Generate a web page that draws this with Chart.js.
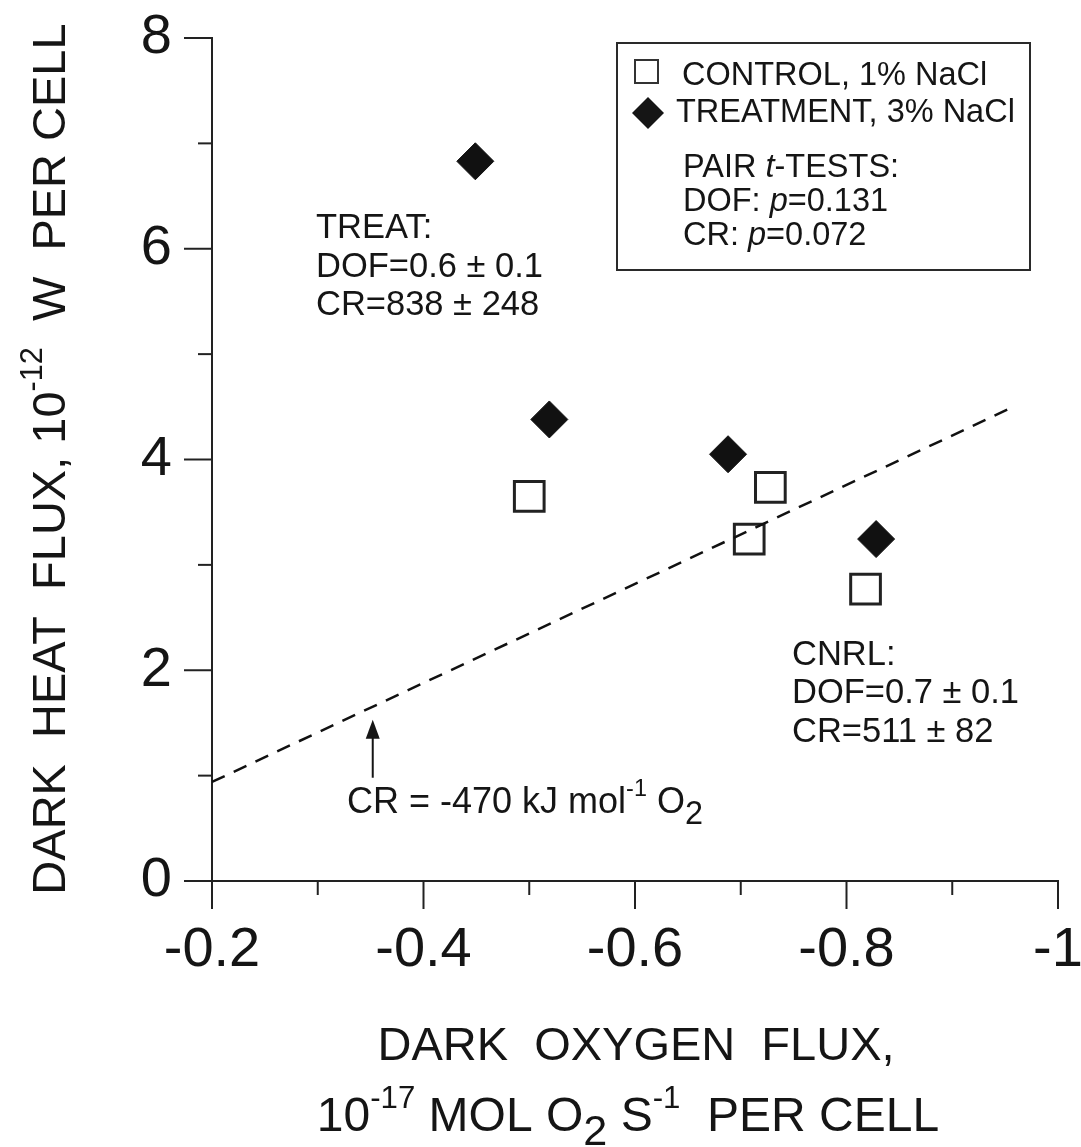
<!DOCTYPE html>
<html><head><meta charset="utf-8">
<script src="https://cdn.jsdelivr.net/npm/chart.js@4"></script>
<style>html,body{margin:0;padding:0;background:#fff}canvas{display:block}</style>
</head><body>
<canvas id="c" width="1081" height="1147"></canvas>
<script>
// ---- data ----
const controlX = [-0.50, -0.708, -0.728, -0.818];
const controlY = [3.65, 3.245, 3.735, 2.77];
const treatX = [-0.449, -0.519, -0.688, -0.828];
const treatY = [6.83, 4.38, 4.05, 3.245];
const fitX = [-0.2, -0.96];
const fitY = [0.94, 4.51];
const xTickValues = [-0.2, -0.4, -0.6, -0.8, -1];
const xTickLabels = ['-0.2', '-0.4', '-0.6', '-0.8', '-1'];
const xMinorValues = [-0.3, -0.5, -0.7, -0.9];
const yTickValues = [0, 2, 4, 6, 8];
const yTickLabels = ['0', '2', '4', '6', '8'];
const yMinorValues = [1, 3, 5, 7];
const legendLabels = ['CONTROL, 1% NaCl', 'TREATMENT, 3% NaCl'];
const arrowX = [-0.352];
const arrowY = [0.98, 1.53];

const FONT = '"Liberation Sans", Arial, Helvetica, sans-serif';
const INK = '#151515';

function fontFor(seg, size) {
  let s = size;
  if (seg.s === 'sup') s = size * 0.65;
  else if (seg.s === 'sub') s = size * 0.9;
  return (seg.i ? 'italic ' : '') + s.toFixed(1) + 'px ' + FONT;
}
function drawRich(ctx, segs, x, y, size, align) {
  let w = 0;
  segs.forEach(seg => { ctx.font = fontFor(seg, size); w += ctx.measureText(seg.t).width; });
  let cx = align === 'center' ? x - w / 2 : x;
  ctx.textAlign = 'left';
  ctx.textBaseline = 'alphabetic';
  segs.forEach(seg => {
    ctx.font = fontFor(seg, size);
    const dy = seg.s === 'sup' ? -0.48 * size : seg.s === 'sub' ? 0.3 * size : 0;
    ctx.fillText(seg.t, cx, y + dy);
    cx += ctx.measureText(seg.t).width;
  });
}
function T(t) { return [{ t }]; }

const decor = {
  id: 'decor',
  afterDraw(chart) {
    const { ctx, chartArea: a, scales: { x, y } } = chart;
    ctx.save();
    ctx.strokeStyle = '#222';
    ctx.lineWidth = 2;
    const line = (x1, y1, x2, y2) => { ctx.beginPath(); ctx.moveTo(x1, y1); ctx.lineTo(x2, y2); ctx.stroke(); };
    xTickValues.forEach(v => { const p = x.getPixelForValue(v); line(p, a.bottom, p, a.bottom + 28); });
    xMinorValues.forEach(v => { const p = x.getPixelForValue(v); line(p, a.bottom, p, a.bottom + 14); });
    yTickValues.forEach(v => { const p = y.getPixelForValue(v); line(a.left - 28, p, a.left, p); });
    yMinorValues.forEach(v => { const p = y.getPixelForValue(v); line(a.left - 14, p, a.left, p); });

    // arrow
    const ax = x.getPixelForValue(arrowX[0]);
    const ay0 = y.getPixelForValue(arrowY[0]);
    const ay1 = y.getPixelForValue(arrowY[1]);
    ctx.strokeStyle = INK; ctx.fillStyle = INK; ctx.lineWidth = 2;
    line(ax, ay0, ax, ay1 + 14);
    ctx.beginPath(); ctx.moveTo(ax, ay1); ctx.lineTo(ax - 7, ay1 + 19); ctx.lineTo(ax + 7, ay1 + 19); ctx.closePath(); ctx.fill();

    ctx.fillStyle = INK;
    // annotations
    drawRich(ctx, [{ t: 'CR = -470 kJ mol' }, { t: '-1', s: 'sup' }, { t: ' O' }, { t: '2', s: 'sub' }], 347, 813, 36, 'left');
    drawRich(ctx, T('TREAT:'), 316, 238, 34.5, 'left');
    drawRich(ctx, T('DOF=0.6 \u00b1 0.1'), 316, 277, 34.5, 'left');
    drawRich(ctx, T('CR=838 \u00b1 248'), 316, 315, 34.5, 'left');
    drawRich(ctx, T('CNRL:'), 792, 665, 34.5, 'left');
    drawRich(ctx, T('DOF=0.7 \u00b1 0.1'), 792, 703, 34.5, 'left');
    drawRich(ctx, T('CR=511 \u00b1 82'), 792, 742, 34.5, 'left');

    // legend box
    ctx.strokeStyle = '#2a2a2a'; ctx.lineWidth = 2;
    ctx.strokeRect(617, 43, 413, 227);
    ctx.fillStyle = '#fff'; ctx.strokeStyle = '#333'; ctx.lineWidth = 2;
    ctx.beginPath(); ctx.rect(635, 60, 23, 23); ctx.fill(); ctx.stroke();
    ctx.fillStyle = INK;
    ctx.beginPath(); ctx.moveTo(648, 97); ctx.lineTo(664, 113); ctx.lineTo(648, 129); ctx.lineTo(632, 113); ctx.closePath(); ctx.fill();
    drawRich(ctx, T(legendLabels[0]), 682, 85, 32.5, 'left');
    drawRich(ctx, T(legendLabels[1]), 676, 122, 32.5, 'left');
    drawRich(ctx, [{ t: 'PAIR ' }, { t: 't', i: true }, { t: '-TESTS:' }], 683, 177, 32.5, 'left');
    drawRich(ctx, [{ t: 'DOF: ' }, { t: 'p', i: true }, { t: '=0.131' }], 683, 211, 32.5, 'left');
    drawRich(ctx, [{ t: 'CR: ' }, { t: 'p', i: true }, { t: '=0.072' }], 683, 245, 32.5, 'left');

    // x title
    drawRich(ctx, T('DARK  OXYGEN  FLUX,'), 636, 1060, 47, 'center');
    drawRich(ctx, [{ t: '10' }, { t: '-17', s: 'sup' }, { t: ' MOL O' }, { t: '2', s: 'sub' }, { t: ' S' }, { t: '-1', s: 'sup' }, { t: '  PER CELL' }], 628, 1131, 48, 'center');

    // y title
    ctx.save();
    ctx.translate(65, 459);
    ctx.rotate(-Math.PI / 2);
    drawRich(ctx, [{ t: 'DARK  HEAT  FLUX, 10' }, { t: '-12', s: 'sup' }, { t: '  W  PER CELL' }], 0, 0, 47, 'center');
    ctx.restore();
    ctx.restore();
  }
};

new Chart(document.getElementById('c'), {
  type: 'scatter',
  data: {
    datasets: [
      {
        type: 'line', label: 'fit',
        data: fitX.map((v, i) => ({ x: v, y: fitY[i] })),
        borderColor: '#111', borderWidth: 2.5, borderDash: [14, 10],
        pointRadius: 0, fill: false, tension: 0
      },
      {
        label: legendLabels[0],
        data: controlX.map((v, i) => ({ x: v, y: controlY[i] })),
        pointStyle: 'rect', pointRadius: 21, borderWidth: 3,
        borderColor: '#222', backgroundColor: '#fff'
      },
      {
        label: legendLabels[1],
        data: treatX.map((v, i) => ({ x: v, y: treatY[i] })),
        pointStyle: 'rectRot', pointRadius: 18.5, borderWidth: 1,
        borderColor: '#111', backgroundColor: '#111'
      }
    ]
  },
  options: {
    responsive: false,
    devicePixelRatio: 1,
    animation: false,
    events: [],
    layout: { autoPadding: false, padding: { top: 38, right: 23, left: 0, bottom: 0 } },
    plugins: { legend: { display: false }, tooltip: { enabled: false } },
    scales: {
      x: {
        type: 'linear', min: -1, max: -0.2, reverse: true,
        grid: { display: false, drawTicks: false },
        border: { display: true, color: '#222', width: 2 },
        afterBuildTicks: s => { s.ticks = xTickValues.map(v => ({ value: v })); },
        afterFit: s => { s.height = 266; s.paddingLeft = 0; s.paddingRight = 0; },
        ticks: {
          autoSkip: false, maxRotation: 0, padding: 36, color: INK,
          font: { family: FONT, size: 56 },
          callback: (v, i) => xTickLabels[i]
        }
      },
      y: {
        type: 'linear', min: 0, max: 8,
        grid: { display: false, drawTicks: false },
        border: { display: true, color: '#222', width: 2 },
        afterBuildTicks: s => { s.ticks = yTickValues.map(v => ({ value: v })); },
        afterFit: s => { s.width = 212; s.paddingTop = 0; s.paddingBottom = 0; },
        ticks: {
          autoSkip: false, padding: 40, color: INK,
          font: { family: FONT, size: 56 },
          callback: (v, i) => yTickLabels[i]
        }
      }
    }
  },
  plugins: [decor]
});
</script>
</body></html>
